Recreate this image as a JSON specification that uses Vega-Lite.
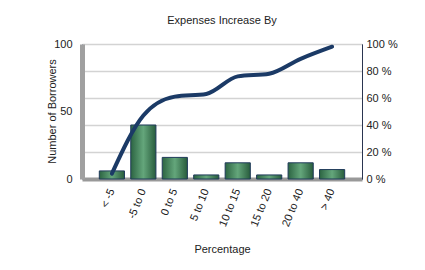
{
  "$schema": "https://vega.github.io/schema/vega-lite/v6.json",
  "autosize": {"type": "none"},
  "padding": {"left": 82, "top": 44, "right": 63, "bottom": 91},
  "width": 280,
  "height": 135,
  "background": "white",
  "title": {"text": "Expenses Increase By", "fontSize": 11, "font": "Liberation Sans", "fontWeight": "normal", "color": "#222222", "offset": 12, "anchor": "middle"},
  "config": {
    "view": {"stroke": "#55688a", "strokeWidth": 1},
    "font": "Liberation Sans"
  },
  "data": {"values": [
    {"range": "< -5", "count": 6, "cum": 4},
    {"range": "-5 to 0", "count": 40, "cum": 47},
    {"range": "0 to 5", "count": 16, "cum": 61},
    {"range": "5 to 10", "count": 3, "cum": 63},
    {"range": "10 to 15", "count": 12, "cum": 76},
    {"range": "15 to 20", "count": 3, "cum": 78},
    {"range": "20 to 40", "count": 12, "cum": 89},
    {"range": "> 40", "count": 7, "cum": 98}
  ]},
  "encoding": {
    "x": {"field": "range", "type": "nominal", "sort": null,
      "scale": {"paddingInner": 0.2, "paddingOuter": 0.55},
      "axis": {"title": "Percentage", "labelAngle": -68, "labelFontSize": 11, "titleFontSize": 11, "titleFontWeight": "normal", "titleColor": "#222", "labelColor": "#222", "ticks": false, "labelPadding": 10, "domainColor": "#999999", "domainWidth": 4, "titlePadding": 16}}
  },
  "layer": [
    {
      "mark": {"type": "bar", "stroke": "#1f3a5a", "strokeWidth": 1,
        "color": {"gradient": "linear", "x1": 0, "x2": 1, "y1": 0, "y2": 0,
          "stops": [{"offset": 0, "color": "#2c6442"}, {"offset": 0.5, "color": "#64a67b"}, {"offset": 1, "color": "#285c3c"}]}},
      "encoding": {
        "y": {"field": "count", "type": "quantitative",
          "scale": {"domain": [0, 100]},
          "axis": {"title": "Number of Borrowers", "titleX": -30, "titleY": 67, "titleBaseline": "middle", "values": [0, 50, 100], "grid": false, "labelFontSize": 11, "titleFontSize": 11, "titleFontWeight": "normal", "titleColor": "#222", "labelColor": "#222", "tickSize": 0, "labelPadding": 10, "domainColor": "#a0a0a0", "domainWidth": 5}}
      }
    },
    {
      "mark": {"type": "line", "color": "#1b3a66", "strokeWidth": 4, "interpolate": "monotone", "strokeCap": "round"},
      "encoding": {
        "y": {"field": "cum", "type": "quantitative",
          "scale": {"domain": [0, 100]},
          "axis": {"orient": "right", "title": null, "values": [0, 20, 40, 60, 80, 100], "grid": true, "gridColor": "#d3d3d3", "gridWidth": 1.5, "labelExpr": "datum.value + ' %'", "labelFontSize": 11, "labelColor": "#222", "tickSize": 0, "labelPadding": 4, "domainColor": "#2a3550", "domainWidth": 1}}
      }
    }
  ],
  "resolve": {"scale": {"y": "independent"}}
}
